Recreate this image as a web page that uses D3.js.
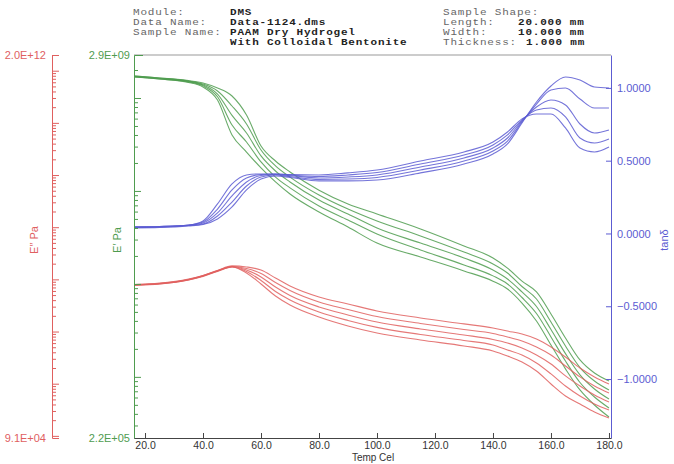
<!DOCTYPE html>
<html>
<head>
<meta charset="utf-8">
<script src="https://cdn.jsdelivr.net/npm/d3@7"></script>
<style>
  body { margin: 0; background: #fff; }
</style>
</head>
<body>
<div id="chart"></div>
<script>
// temperatures (Cel) shared by every curve
var temps = [16.5, 25, 35, 40, 45, 50, 55, 60, 65, 70, 80, 90, 100, 115, 130, 140, 145, 150, 155, 160, 165, 170, 175, 180];

// E' (Pa), five runs
var storage1 = [1.68e9, 1.60e9, 1.47e9, 1.31e9, 9.51e8, 4.00e8, 2.62e8, 1.77e8, 1.25e8, 9.27e7, 5.94e7, 4.09e7, 2.75e7, 1.95e7, 1.38e7, 1.07e7, 8.82e6, 6.23e6, 3.99e6, 2.20e6, 1.22e6, 7.23e5, 4.98e5, 3.70e5];
var storage2 = [1.68e9, 1.60e9, 1.49e9, 1.35e9, 1.03e9, 5.12e8, 3.36e8, 2.05e8, 1.41e8, 1.08e8, 6.89e7, 4.87e7, 3.44e7, 2.32e7, 1.60e7, 1.22e7, 9.98e6, 7.14e6, 4.81e6, 2.69e6, 1.48e6, 8.70e5, 6.07e5, 4.63e5];
var storage3 = [1.70e9, 1.62e9, 1.51e9, 1.38e9, 1.10e9, 6.49e8, 4.20e8, 2.38e8, 1.64e8, 1.25e8, 7.99e7, 5.65e7, 3.99e7, 2.75e7, 1.90e7, 1.41e7, 1.13e7, 8.19e6, 5.71e6, 3.23e6, 1.78e6, 1.05e6, 7.41e5, 5.78e5];
var storage4 = [1.72e9, 1.64e9, 1.52e9, 1.41e9, 1.19e9, 8.20e8, 5.25e8, 2.76e8, 1.86e8, 1.41e8, 9.05e7, 6.39e7, 4.75e7, 3.28e7, 2.20e7, 1.64e7, 1.31e7, 9.38e6, 6.88e6, 3.89e6, 2.15e6, 1.26e6, 9.03e5, 7.23e5];
var storage5 = [1.72e9, 1.64e9, 1.54e9, 1.45e9, 1.28e9, 1.05e9, 6.56e8, 3.04e8, 2.10e8, 1.60e8, 1.02e8, 7.24e7, 5.65e7, 3.90e7, 2.56e7, 1.90e7, 1.48e7, 1.07e7, 8.19e6, 4.75e6, 2.62e6, 1.52e6, 1.10e6, 9.03e5];

// E'' (Pa), five runs
var loss1 = [7.64e7, 8.15e7, 9.73e7, 1.14e8, 1.42e8, 1.73e8, 1.33e8, 8.15e7, 4.80e7, 3.23e7, 1.90e7, 1.28e7, 9.38e6, 6.89e6, 5.29e6, 4.24e6, 3.40e6, 2.61e6, 1.75e6, 9.88e5, 5.82e5, 4.09e5, 2.87e5, 2.20e5];
var loss2 = [7.81e7, 8.15e7, 9.73e7, 1.16e8, 1.45e8, 1.73e8, 1.42e8, 9.52e7, 5.86e7, 4.03e7, 2.37e7, 1.63e7, 1.20e7, 8.78e6, 6.74e6, 5.52e6, 4.43e6, 3.55e6, 2.50e6, 1.54e6, 9.04e5, 5.82e5, 4.09e5, 3.14e5];
var loss3 = [7.81e7, 8.34e7, 9.95e7, 1.16e8, 1.45e8, 1.77e8, 1.51e8, 1.11e8, 7.14e7, 4.91e7, 2.96e7, 2.08e7, 1.52e7, 1.12e7, 8.59e6, 7.04e6, 6.03e6, 4.84e6, 3.55e6, 2.39e6, 1.41e6, 9.04e5, 6.08e5, 4.46e5];
var loss4 = [7.98e7, 8.34e7, 9.95e7, 1.19e8, 1.48e8, 1.77e8, 1.62e8, 1.30e8, 8.71e7, 6.12e7, 3.69e7, 2.65e7, 1.94e7, 1.43e7, 1.09e7, 9.18e6, 7.87e6, 6.59e6, 5.06e6, 3.55e6, 2.19e6, 1.35e6, 9.04e5, 6.64e5];
var loss5 = [7.98e7, 8.52e7, 1.02e8, 1.19e8, 1.48e8, 1.81e8, 1.73e8, 1.51e8, 1.06e8, 7.47e7, 4.60e7, 3.38e7, 2.48e7, 1.82e7, 1.40e7, 1.17e7, 1.02e7, 8.98e6, 7.20e6, 5.06e6, 3.25e6, 2.00e6, 1.35e6, 9.88e5];

// tan delta, five runs
var tan1 = [0.045, 0.048, 0.058, 0.086, 0.203, 0.340, 0.402, 0.409, 0.409, 0.405, 0.402, 0.416, 0.436, 0.498, 0.560, 0.628, 0.697, 0.787, 0.821, 0.821, 0.725, 0.587, 0.560, 0.594];
var tan2 = [0.045, 0.048, 0.058, 0.079, 0.168, 0.299, 0.381, 0.405, 0.409, 0.402, 0.391, 0.402, 0.419, 0.477, 0.539, 0.608, 0.677, 0.780, 0.848, 0.862, 0.801, 0.656, 0.622, 0.649];
var tan3 = [0.041, 0.045, 0.055, 0.072, 0.141, 0.258, 0.354, 0.398, 0.405, 0.398, 0.381, 0.388, 0.402, 0.457, 0.519, 0.587, 0.656, 0.773, 0.869, 0.917, 0.883, 0.752, 0.690, 0.711];
var tan4 = [0.041, 0.045, 0.055, 0.065, 0.120, 0.216, 0.326, 0.388, 0.402, 0.391, 0.371, 0.374, 0.385, 0.436, 0.498, 0.567, 0.635, 0.766, 0.889, 0.986, 0.999, 0.924, 0.862, 0.862];
var tan5 = [0.038, 0.041, 0.052, 0.062, 0.100, 0.182, 0.299, 0.374, 0.395, 0.385, 0.361, 0.361, 0.367, 0.416, 0.477, 0.546, 0.615, 0.759, 0.903, 1.013, 1.075, 1.054, 1.006, 0.999];

// ticks
var tempTicks = [20, 40, 60, 80, 100, 120, 140, 160, 180];
var tanTicks = [-1, -0.5, 0, 0.5, 1];

var width = 674, height = 464;
var plot = {left: 134, right: 611, top: 55, bottom: 438};

var red = "#e0605f", green = "#4f9c4f", blue = "#5c5cd2";

var svg = d3.select("#chart")
  .append("svg")
    .attr("width", width)
    .attr("height", height)
    .style("font-family", "'Liberation Sans', Arial, sans-serif");

var x = d3.scaleLinear().domain([16.2, 180.7]).range([plot.left, plot.right]);
var yStore = d3.scaleLog().domain([2.2e5, 2.9e9]).range([plot.bottom, plot.top]);
var yLoss = d3.scaleLog().domain([9.1e4, 2.0e12]).range([plot.bottom, plot.top]);
var yTan = d3.scaleLinear().domain([-1.405, 1.226]).range([plot.bottom, plot.top]);

// header block (monospace, slightly squashed vertically like the instrument print)
var squash = 0.8;
var header = svg.append("g")
  .attr("transform", "scale(1," + squash + ")")
  .style("font-family", "'Liberation Mono', 'DejaVu Sans Mono', monospace")
  .style("font-size", "11px")
  .style("letter-spacing", "0.8px");

function headText(px, py, txt, bold) {
  header.append("text")
    .attr("x", px).attr("y", py / squash)
    .style("white-space", "pre")
    .attr("fill", bold ? "#222" : "#666")
    .attr("font-weight", bold ? "bold" : "normal")
    .text(txt);
}
headText(133, 15, "Module:", false);
headText(230, 15, "DMS", true);
headText(133, 25, "Data Name:", false);
headText(230, 25, "Data-1124.dms", true);
headText(133, 35, "Sample Name:", false);
headText(230, 35, "PAAM Dry Hydrogel", true);
headText(230, 45, "With Colloidal Bentonite", true);
headText(443, 15, "Sample Shape:", false);
headText(443, 25, "Length:", false);
headText(518, 25, "20.000 mm", true);
headText(443, 35, "Width:", false);
headText(518, 35, "10.000 mm", true);
headText(443, 45, "Thickness:", false);
headText(526, 45, "1.000 mm", true);

// top frame line
svg.append("line")
  .attr("x1", plot.left).attr("x2", plot.right)
  .attr("y1", plot.top).attr("y2", plot.top)
  .attr("stroke", "#999").attr("stroke-width", 1.2);

// curves
function drawSet(sets, yScale, color) {
  var line = d3.line()
    .x(function(d) { return x(d[0]); })
    .y(function(d) { return yScale(d[1]); })
    .curve(d3.curveMonotoneX);
  sets.forEach(function(vals) {
    svg.append("path")
      .datum(temps.map(function(t, i) { return [t, vals[i]]; }))
      .attr("fill", "none")
      .attr("stroke", color)
      .attr("stroke-width", 1.1)
      .attr("stroke-opacity", 0.85)
      .attr("d", line);
  });
}
drawSet([storage1, storage2, storage3, storage4, storage5], yStore, green);
drawSet([tan1, tan2, tan3, tan4, tan5], yTan, blue);
drawSet([loss1, loss2, loss3, loss4, loss5], yLoss, red);

function isDecade(d) {
  return Math.abs(Math.log10(d) - Math.round(Math.log10(d))) < 1e-9;
}

// E'' axis (red, detached on the left)
var lossAxis = svg.append("g")
  .attr("transform", "translate(52,0)")
  .call(d3.axisRight(yLoss).tickValues(yLoss.ticks(10)).tickSize(4).tickSizeOuter(7).tickFormat(""));
lossAxis.selectAll("path, line").attr("stroke", red);
lossAxis.selectAll(".tick line").attr("x2", function(d) { return isDecade(d) ? 7 : 4; });
svg.append("text").attr("x", 46).attr("y", plot.top).attr("dy", "0.35em")
  .attr("text-anchor", "end").attr("fill", red).style("font-size", "11px").text("2.0E+12");
svg.append("text").attr("x", 46).attr("y", plot.bottom).attr("dy", "0.35em")
  .attr("text-anchor", "end").attr("fill", red).style("font-size", "11px").text("9.1E+04");
svg.append("text")
  .attr("transform", "translate(38,240)rotate(-90)")
  .attr("text-anchor", "middle").attr("fill", red).style("font-size", "11px")
  .text("E\u2033 Pa");

// E' axis (green, left edge of the plot)
var storeAxis = svg.append("g")
  .attr("transform", "translate(" + plot.left + ",0)")
  .call(d3.axisRight(yStore).tickValues(yStore.ticks(10)).tickSize(4).tickSizeOuter(9).tickFormat(""));
storeAxis.selectAll("path, line").attr("stroke", green);
storeAxis.selectAll(".tick line").attr("x2", function(d) { return isDecade(d) ? 7 : 4; });
svg.append("text").attr("x", 130).attr("y", plot.top).attr("dy", "0.35em")
  .attr("text-anchor", "end").attr("fill", green).style("font-size", "11px").text("2.9E+09");
svg.append("text").attr("x", 130).attr("y", plot.bottom).attr("dy", "0.35em")
  .attr("text-anchor", "end").attr("fill", green).style("font-size", "11px").text("2.2E+05");
svg.append("text")
  .attr("transform", "translate(121,240)rotate(-90)")
  .attr("text-anchor", "middle").attr("fill", green).style("font-size", "11px")
  .text("E\u2032 Pa");

// tan delta axis (blue, right)
var tanAxis = svg.append("g")
  .attr("transform", "translate(" + plot.right + ",0)")
  .call(d3.axisRight(yTan).tickValues(tanTicks).tickSize(-5).tickSizeOuter(0).tickPadding(6)
    .tickFormat(d3.format(".4f")));
tanAxis.selectAll("path, line").attr("stroke", blue);
tanAxis.selectAll("text").attr("fill", blue).style("font-size", "11px")
  .style("font-family", "'Liberation Sans', Arial, sans-serif");
svg.append("text")
  .attr("transform", "translate(668,240)rotate(-90)")
  .attr("text-anchor", "middle").attr("fill", blue).style("font-size", "11px")
  .text("tan\u03b4");

// temperature axis
var tempAxis = svg.append("g")
  .attr("transform", "translate(0," + plot.bottom + ")")
  .call(d3.axisBottom(x).tickValues(tempTicks).tickSize(-5).tickSizeOuter(0).tickPadding(4)
    .tickFormat(d3.format(".1f")));
tempAxis.selectAll("path, line").attr("stroke", "#444");
tempAxis.selectAll("text").attr("fill", "#333").style("font-size", "10.5px")
  .style("font-family", "'Liberation Sans', Arial, sans-serif");
svg.append("text")
  .attr("x", 373).attr("y", 461)
  .attr("text-anchor", "middle").attr("fill", "#333").style("font-size", "10px")
  .text("Temp Cel");
</script>
</body>
</html>
